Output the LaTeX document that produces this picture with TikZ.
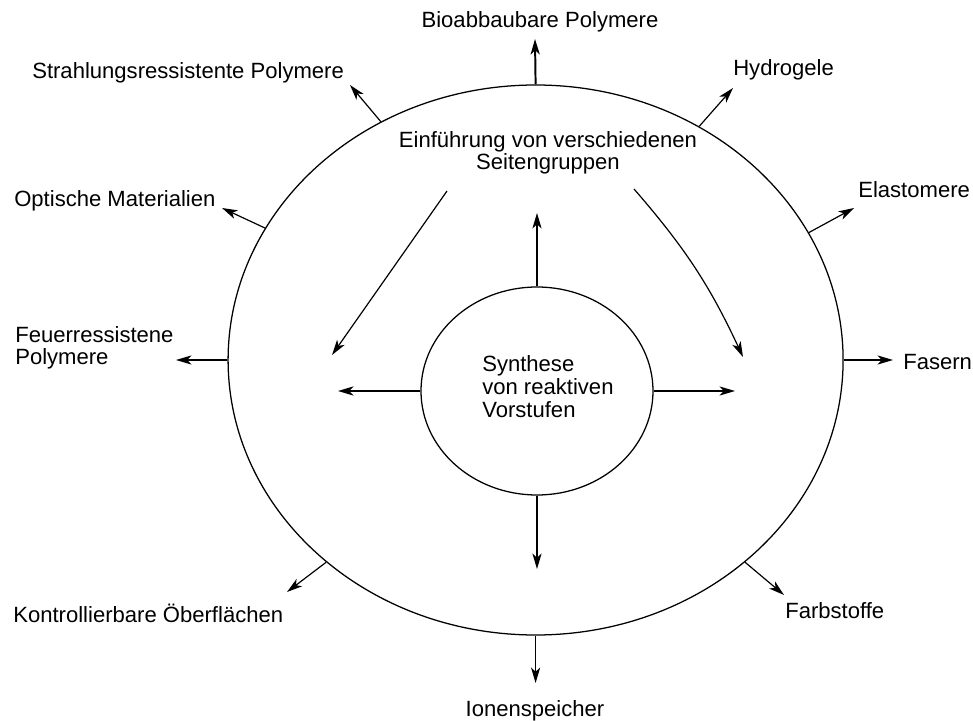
\documentclass[tikz,border=0pt]{standalone}
\usepackage{fontspec}
\setmainfont{Liberation Sans}
\usetikzlibrary{arrows.meta,shapes.geometric}
\newcommand{\lblsize}{\fontsize{15.7pt}{16.3pt}\selectfont}
\tikzset{
  ring/.style={ellipse,draw,line width=0.9pt,inner sep=0pt},
  lbl/.style={inner sep=0pt,font=\lblsize},
  arr/.style={-{Stealth[length=11pt,width=6.5pt,inset=3pt]},line width=0.85pt},
  arrb/.style={arr,line width=1.4pt},
}
\begin{document}
\begin{tikzpicture}
    \useasboundingbox (0,0) rectangle (24.325,18);
    % --- the two rings
    \node[ring,minimum width=15.375cm,minimum height=13.75cm] at (13.39,9.0) (outer) {};
    \node[ring,minimum width=5.8cm,minimum height=5.2cm] at (13.425,8.225) (inner) {};
    \node[lbl,anchor=base,align=center] at (13.7,13.75) (einf)
      {Einführung von verschiedenen\\Seitengruppen};
    \node[lbl,anchor=base west,align=left] at (12.05,7.575) (synth)
      {Synthese\\von reaktiven\\Vorstufen};
    % --- applications round the outer ring
    \node[lbl,anchor=base]      at (13.5,17.3)   (bio)  {Bioabbaubare Polymere};
    \node[lbl,anchor=base west] at (0.8,16.025)  (str)  {Strahlungsressistente Polymere};
    \node[lbl,anchor=base west] at (18.325,16.1) (hyd)  {Hydrogele};
    \node[lbl,anchor=base west] at (21.45,13.05) (ela)  {Elastomere};
    \node[lbl,anchor=base west] at (0.35,12.825) (opt)  {Optische Materialien};
    \node[lbl,anchor=base west,align=left] at (0.375,8.875) (feu) {Feuerressistene\\Polymere};
    \node[lbl,anchor=base west] at (22.575,8.75) (fas)  {Fasern};
    \node[lbl,anchor=base west] at (0.325,2.45)  (kon)  {Kontrollierbare Öberflächen};
    \node[lbl,anchor=base west] at (19.625,2.55) (far)  {Farbstoffe};
    \node[lbl,anchor=base]      at (13.375,0.1)  (ion)  {Ionenspeicher};
    % --- arrow ends
    \coordinate (tBio) at (13.375,17.025);
    \coordinate (tStr) at (8.75,15.875);
    \coordinate (tHyd) at (18.325,15.8);
    \coordinate (tEla) at (21.35,12.8);
    \coordinate (tOpt) at (5.55,12.8);
    \coordinate (tFeu) at (4.4,9.0);
    \coordinate (tFas) at (22.325,9.0);
    \coordinate (tKon) at (7.175,3.2);
    \coordinate (tFar) at (19.6,3.125);
    \coordinate (tIon) at (13.39,0.925);
    \coordinate (tUp)  at (13.425,12.675);
    \coordinate (tDn)  at (13.425,3.775);
    \coordinate (tLft) at (8.45,8.225);
    \coordinate (tRgt) at (18.375,8.225);
    \coordinate (cLa)  at (11.175,13.225);
    \coordinate (cLb)  at (8.3,9.125);
    \coordinate (cRa)  at (15.85,13.275);
    \coordinate (cRb)  at (18.575,9.075);

    \draw[arrb] (outer.north) -- (tBio);
    \draw[arr] (outer.123) -- (tStr);
    \draw[arr] (outer.55) -- (tHyd);
    \draw[arr] (outer.25) -- (tEla);
    \draw[arr] (outer.154) -- (tOpt);
    \draw[arr] (outer.west) -- (tFeu);
    \draw[arr] (outer.east) -- (tFas);
    \draw[arr] (outer.224.4) -- (tKon);
    \draw[arr] (outer.-44.5) -- (tFar);
    \draw[arr] (outer.south) -- (tIon);

    \draw[arr] (inner.north) -- (tUp);
    \draw[arr] (inner.south) -- (tDn);
    \draw[arrb] (inner.west) -- (tLft);
    \draw[arr] (inner.east) -- (tRgt);
    \draw[arr] (cLa) -- (cLb);
    \draw[arr] (cRa) to[bend left=8] (cRb);   % slight curve to the right
  \end{tikzpicture}
\end{document}
